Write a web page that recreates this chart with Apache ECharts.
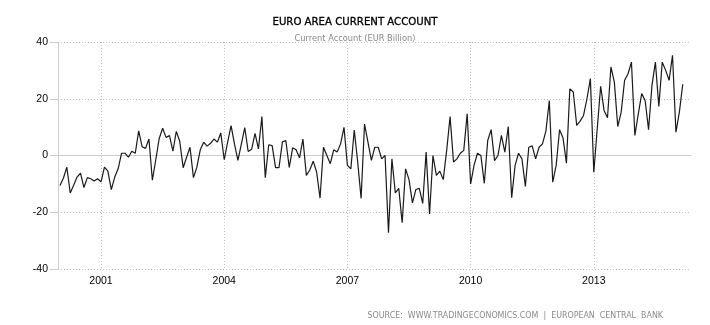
<!DOCTYPE html>
<html>
<head>
<meta charset="utf-8">
<script src="https://cdn.jsdelivr.net/npm/echarts@6/dist/echarts.min.js"></script>
<style>
html,body{margin:0;padding:0;background:#fff;}
#chart{width:710px;height:325px;}
</style>
</head>
<body>
<div id="chart"></div>
<script>
// Monthly values, EUR billion, Jan..Dec for each year
var y2000 = [-10.6,-8,-4.1,-13.2,-10.5,-7.6,-6.2,-11.3,-7.8,-8.2,-9,-8.2];
var y2001 = [-9.3,-4.1,-5.5,-12,-7.6,-4.7,0.8,0.8,-0.6,1.5,0.8,8.7];
var y2002 = [3.1,2.5,5.8,-8.7,-1.5,6,9.6,6.4,7,1.5,8.5,5];
var y2003 = [-4.3,-0.6,2.9,-7.8,-4.1,2,4.7,3.3,4.3,5.8,4.7,7.9];
var y2004 = [-1.5,4.7,10.5,4,-1.7,4,9.8,1.4,2.2,7.8,2.3,13.7];
var y2005 = [-7.8,3.8,3.5,-4.3,-4.3,4.8,5.3,-4.2,2.7,2,-0.8,5.8];
var y2006 = [-7,-5.1,-2,-5.8,-15,2.9,0,-2.9,2,1.2,4.1,9.9];
var y2007 = [-3.5,-4.7,9,-2.3,-15.1,11.1,4.7,-1.7,2.9,2.9,-1.2,0];
var y2008 = [-27.2,-1.2,-13.2,-11.6,-23.7,-4.7,-8.5,-16.7,-12,-11.6,-16.9,1.2];
var y2009 = [-20.6,0,-7,-5.5,-8.5,1.7,13.7,-2.3,-1.2,0.8,1.8,14.7];
var y2010 = [-10,-3.5,0.8,0,-9.8,5.3,9.1,-1.8,0,7.1,1.2,10.2];
var y2011 = [-14.9,-3.5,0.8,-1.2,-10.9,2.9,3.4,-1.2,2.9,4.1,8.6,19.4];
var y2012 = [-9.4,-3.5,9.1,6.2,-2.7,23.5,22.4,10.6,12.1,14.1,20,27.1];
var y2013 = [-5.9,9.4,24.4,15.9,13.3,31.2,25.9,10.2,15.3,26.5,28.8,32.9];
var y2014 = [7.1,14.7,21.8,19.4,9.1,24.7,32.9,17.3,32.9,30,26.5,35.3];
var y2015 = [8.2,15.3,25.1];

var years = [2000,2001,2002,2003,2004,2005,2006,2007,2008,2009,2010,2011,2012,2013,2014,2015];
var yearValues = [y2000,y2001,y2002,y2003,y2004,y2005,y2006,y2007,y2008,y2009,y2010,y2011,y2012,y2013,y2014,y2015];
var xTickYears = [2001,2004,2007,2010,2013];
var yTicks = [-40,-20,0,20,40];

var titleText = 'EURO AREA CURRENT ACCOUNT';
var subtitleText = 'Current Account (EUR Billion)';
var sourceText = 'SOURCE:  WWW.TRADINGECONOMICS.COM  |  EUROPEAN  CENTRAL  BANK';

var seriesData = [];
years.forEach(function (yr, k) {
  yearValues[k].forEach(function (v, m) {
    seriesData.push([yr + m / 12, v]);
  });
});

var chart = echarts.init(document.getElementById('chart'), null, {renderer: 'canvas'});
var dotted = {type: [1, 2], color: '#c4c4c4', width: 1};
chart.setOption({
  animation: false,
  backgroundColor: '#ffffff',
  title: [
    {text: titleText, left: 'center', top: 12,
     textStyle: {fontFamily: 'DejaVu Sans Condensed', fontSize: 11.3, fontWeight: 'normal', color: '#000', textBorderColor: '#000', textBorderWidth: 0.3}},
    {text: subtitleText, left: 'center', top: 29,
     textStyle: {fontFamily: 'DejaVu Sans Condensed', fontSize: 9.2, fontWeight: 'normal', color: '#888'}},
    {text: sourceText, right: 42, top: 306,
     textStyle: {fontFamily: 'DejaVu Sans Condensed', fontSize: 8.8, fontWeight: 'normal', color: '#8a8a8a'}}
  ],
  grid: {left: 58, right: 19, top: 42, bottom: 56, containLabel: false},
  xAxis: {
    type: 'value',
    min: 1999.952,
    max: 2015.367,
    axisLine: {show: true, lineStyle: {color: '#cccccc', width: 1}},
    axisTick: {show: false, customValues: xTickYears},
    axisLabel: {customValues: xTickYears, color: '#000', fontFamily: 'Liberation Sans', fontSize: 10.5, margin: 7,
      formatter: function (v) { return String(Math.round(v)); }},
    splitLine: {show: true, lineStyle: dotted}
  },
  yAxis: {
    type: 'value',
    min: -40,
    max: 40,
    interval: 20,
    axisLine: {show: true, lineStyle: {color: '#cccccc', width: 1}},
    axisTick: {show: true, length: 8, lineStyle: {color: '#cccccc'}},
    axisLabel: {color: '#000', fontFamily: 'Liberation Sans', fontSize: 10.5, margin: 10},
    splitLine: {show: true, lineStyle: dotted}
  },
  series: [{
    type: 'line',
    data: seriesData,
    showSymbol: false,
    symbol: 'none',
    lineStyle: {color: '#1a1a1a', width: 1.2},
    z: 5
  }]
});
</script>
</body>
</html>
